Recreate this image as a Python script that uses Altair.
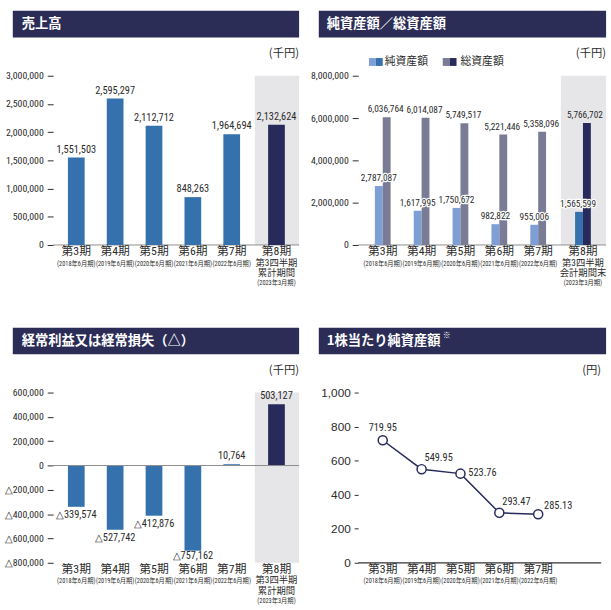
import altair as alt
import pandas as pd

# ---------------- data ----------------
periods = ["第3期", "第4期", "第5期", "第6期", "第7期", "第8期"]
fiscal_notes = ["(2018年6月期)", "(2019年6月期)", "(2020年6月期)",
                "(2021年6月期)", "(2022年6月期)", "(2023年3月期)"]
q3_sales_note = "第3四半期\n累計期間"
q3_assets_note = "第3四半期\n会計期間末"
sales = [1551503, 2595297, 2112712, 848263, 1964694, 2132624]
net_assets = [2787087, 1617995, 1750672, 982822, 955006, 1565599]
total_assets = [6036764, 6014087, 5749517, 5221446, 5358096, 5766702]
ordinary_income = [-339574, -527742, -412876, -757162, 10764, 503127]
bps_periods = ["第3期", "第4期", "第5期", "第6期", "第7期"]
bps = [719.95, 549.95, 523.76, 293.47, 285.13]
titles = ["売上高", "純資産額／総資産額", "経常利益又は経常損失（△）", "1株当たり純資産額"]
title_mark = "※"
units = ["(千円)", "(千円)", "(千円)", "(円)"]
legend_labels = ["純資産額", "総資産額"]
sales_ticks = [0, 500000, 1000000, 1500000, 2000000, 2500000, 3000000]
asset_ticks = [0, 2000000, 4000000, 6000000, 8000000]
income_ticks = [-800000, -600000, -400000, -200000, 0, 200000, 400000, 600000]
bps_ticks = [0, 200, 400, 600, 800, 1000]
baseline = [0]

# ---------------- styles ----------------
TITLE_BG = "#2b2d57"
BLUE = "#3572ad"
NAVY = "#272a5a"
LIGHT = "#7d9fd5"
SLATE = "#797c94"
BG = "#e6e6e8"
AXIS_GRAY = "#8d8d8d"
TXT = "#2b2b2b"
COND = ("Noto Sans ExtraCondensed, Noto Sans Condensed, Roboto Condensed, "
        "Open Sans Condensed, Liberation Sans Narrow, Liberation Sans")
NUM = COND + ", sans-serif"
JP = "Noto Sans CJK JP, sans-serif"
MIX = COND + ", Noto Sans CJK JP, sans-serif"
REG = "Liberation Sans, Arial, sans-serif"
LAST = periods[-1]
SHIFT = 6

W_L, W_R, H_T, H_B = 250, 252, 172, 173
SL = dict(type="band", domain=periods, paddingInner=0, paddingOuter=0.165, align=0.29)
SR = dict(type="band", domain=periods, paddingInner=0, paddingOuter=0.19, align=0.35)

df = pd.DataFrame({
    "period": periods, "note": fiscal_notes, "sales": sales,
    "net": net_assets, "total": total_assets, "ord": ordinary_income,
})
df["sales_lbl"] = [f"{v:,}" for v in sales]
df["net_lbl"] = [f"{v:,}" for v in net_assets]
df["total_lbl"] = [f"{v:,}" for v in total_assets]
df["ord_lbl"] = [f"△{-v:,}" if v < 0 else f"{v:,}" for v in ordinary_income]
bdf = pd.DataFrame({"period": bps_periods, "bps": bps, "note": fiscal_notes[:5]})
zero_df = pd.DataFrame({"zero": baseline})

is_last = f"datum.period == '{LAST}'"
not_last = f"datum.period != '{LAST}'"


def X(sc):
    return alt.X("period:N", scale=alt.Scale(**sc), axis=None)


def yaxis(values, font=NUM, size=10, expr="format(datum.value, ',')", tick=6, pad=4):
    return alt.Axis(values=values, title=None, domain=False, grid=False, ticks=True,
                    tickSize=tick, tickColor=TXT, tickWidth=1, labelFont=font,
                    labelFontSize=size, labelColor=TXT, labelPadding=pad,
                    labelOverlap=False, labelExpr=expr)


def frame(i, left, w, unit_x):
    one = pd.DataFrame({"title": [titles[i]], "unit": [units[i]]})
    base = alt.Chart(one)
    return [
        base.mark_rect(color=TITLE_BG).encode(
            x=alt.value(left), x2=alt.value(w), y=alt.value(-66), y2=alt.value(-39)),
        base.mark_text(align="left", baseline="middle", color="white", font=JP,
                       fontSize=13.5, fontWeight="bold").encode(
            x=alt.value(-32), y=alt.value(-52.5), text="title:N"),
        base.mark_text(align="right", baseline="middle", color=TXT, font=JP,
                       fontSize=11.5).encode(
            x=alt.value(unit_x), y=alt.value(-22), text="unit:N"),
    ]


def categories(sc, h, note, data, include_last=True):
    base = alt.Chart(data)
    layers = [
        base.transform_filter(not_last).mark_text(
            font=MIX, fontSize=12, color=TXT, baseline="middle").encode(
            x=X(sc), y=alt.value(h + 6), text="period:N"),
        base.transform_filter(not_last).mark_text(
            font=MIX, fontSize=6.4, color=TXT, baseline="middle").encode(
            x=X(sc), y=alt.value(h + 19), text="note:N"),
    ]
    if include_last:
        nd = pd.DataFrame({"period": [LAST], "note": [note]})
        layers += [
            base.transform_filter(is_last).mark_text(
                font=MIX, fontSize=12, color=TXT, baseline="middle", xOffset=SHIFT).encode(
                x=X(sc), y=alt.value(h + 6), text="period:N"),
            alt.Chart(nd).mark_text(
                font=MIX, fontSize=9.5, color=TXT, baseline="top", lineBreak="\n",
                lineHeight=11, xOffset=SHIFT).encode(
                x=X(sc), y=alt.value(h + 13), text="note:N"),
            base.transform_filter(is_last).mark_text(
                font=MIX, fontSize=6.4, color=TXT, baseline="middle", xOffset=SHIFT).encode(
                x=X(sc), y=alt.value(h + 39), text="note:N"),
        ]
    return layers


one_row = pd.DataFrame({"k": [0]})

# ---------------- panel 1: 売上高 ----------------
ys1 = alt.Scale(domain=[0, 3000000], nice=False)
ax1 = yaxis(sales_ticks)


def Y1(f):
    return alt.Y(f, scale=ys1, axis=ax1)


b1 = alt.Chart(df)
vl1 = dict(font=NUM, fontSize=10.5, color=TXT, baseline="bottom", dy=-3)
p1 = alt.layer(
    b1.transform_filter(is_last).mark_bar(color=BG, size=45, xOffset=6.5).encode(
        x=X(SL), y=alt.value(0), y2=alt.value(H_T)),
    alt.Chart(one_row).mark_rule(color=AXIS_GRAY, strokeWidth=1).encode(
        x=alt.value(0), x2=alt.value(W_L), y=alt.value(H_T)),
    b1.transform_filter(not_last).mark_bar(color=BLUE, size=17).encode(
        x=X(SL), y=Y1("sales:Q")),
    b1.transform_filter(is_last).mark_bar(color=NAVY, size=17, xOffset=SHIFT).encode(
        x=X(SL), y=Y1("sales:Q")),
    b1.transform_filter(not_last).mark_text(**vl1).encode(
        x=X(SL), y=Y1("sales:Q"), text="sales_lbl:N"),
    b1.transform_filter(is_last).mark_text(xOffset=SHIFT, **vl1).encode(
        x=X(SL), y=Y1("sales:Q"), text="sales_lbl:N"),
    *categories(SL, H_T, q3_sales_note, df),
    *frame(0, -41, W_L, W_L),
).properties(width=W_L, height=H_T)

# ---------------- panel 2: 純資産額／総資産額 ----------------
ys2 = alt.Scale(domain=[0, 8000000], nice=False)
ax2 = yaxis(asset_ticks)


def Y2(f):
    return alt.Y(f, scale=ys2, axis=ax2)


b2 = alt.Chart(df)
leg = alt.Chart(pd.DataFrame({"a": [legend_labels[0]], "b": [legend_labels[1]]}))
vl = dict(font=NUM, fontSize=9.5, baseline="bottom", dy=-3)
halo = dict(color="white", stroke="white", strokeWidth=2.5, strokeJoin="round", **vl)
ink = dict(color=TXT, **vl)
p2 = alt.layer(
    b2.transform_filter(is_last).mark_bar(color=BG, size=46, xOffset=6.5).encode(
        x=X(SR), y=alt.value(0), y2=alt.value(H_T)),
    alt.Chart(one_row).mark_rule(color=AXIS_GRAY, strokeWidth=1).encode(
        x=alt.value(0), x2=alt.value(W_R), y=alt.value(H_T)),
    b2.transform_filter(not_last).mark_bar(color=LIGHT, size=8, xOffset=-4).encode(
        x=X(SR), y=Y2("net:Q")),
    b2.transform_filter(not_last).mark_bar(color=SLATE, size=8, xOffset=4).encode(
        x=X(SR), y=Y2("total:Q")),
    b2.transform_filter(is_last).mark_bar(color=BLUE, size=8, xOffset=SHIFT - 4).encode(
        x=X(SR), y=Y2("net:Q")),
    b2.transform_filter(is_last).mark_bar(color=NAVY, size=8, xOffset=SHIFT + 4).encode(
        x=X(SR), y=Y2("total:Q")),
    b2.transform_filter(not_last).mark_text(xOffset=-4, **halo).encode(
        x=X(SR), y=Y2("net:Q"), text="net_lbl:N"),
    b2.transform_filter(not_last).mark_text(xOffset=-4, **ink).encode(
        x=X(SR), y=Y2("net:Q"), text="net_lbl:N"),
    b2.transform_filter(not_last).mark_text(xOffset=3, **ink).encode(
        x=X(SR), y=Y2("total:Q"), text="total_lbl:N"),
    b2.transform_filter(is_last).mark_text(xOffset=SHIFT - 5, **halo).encode(
        x=X(SR), y=Y2("net:Q"), text="net_lbl:N"),
    b2.transform_filter(is_last).mark_text(xOffset=SHIFT - 5, **ink).encode(
        x=X(SR), y=Y2("net:Q"), text="net_lbl:N"),
    b2.transform_filter(is_last).mark_text(xOffset=SHIFT + 2, **ink).encode(
        x=X(SR), y=Y2("total:Q"), text="total_lbl:N"),
    leg.mark_rect(color=LIGHT).encode(x=alt.value(11), x2=alt.value(18), y=alt.value(-18), y2=alt.value(-10)),
    leg.mark_rect(color=BLUE).encode(x=alt.value(18), x2=alt.value(25), y=alt.value(-18), y2=alt.value(-10)),
    leg.mark_text(font=JP, fontSize=11, color=TXT, align="left", baseline="middle").encode(
        x=alt.value(27), y=alt.value(-14), text="a:N"),
    leg.mark_rect(color=SLATE).encode(x=alt.value(86), x2=alt.value(93), y=alt.value(-18), y2=alt.value(-10)),
    leg.mark_rect(color=NAVY).encode(x=alt.value(93), x2=alt.value(100), y=alt.value(-18), y2=alt.value(-10)),
    leg.mark_text(font=JP, fontSize=11, color=TXT, align="left", baseline="middle").encode(
        x=alt.value(104), y=alt.value(-14), text="b:N"),
    *categories(SR, H_T, q3_assets_note, df),
    *frame(1, -40, W_R, W_R),
).properties(width=W_R, height=H_T)

# ---------------- panel 3: 経常利益又は経常損失 ----------------
ys3 = alt.Scale(domain=[-800000, 600000], nice=False)
ax3 = yaxis(income_ticks,
            expr="datum.value < 0 ? '△' + format(-datum.value, ',') : format(datum.value, ',')")


def Y3(f):
    return alt.Y(f, scale=ys3, axis=ax3)


b3 = alt.Chart(df)
il = dict(font=NUM, fontSize=10.5, color=TXT)
p3 = alt.layer(
    b3.transform_filter(is_last).mark_bar(color=BG, size=45, xOffset=6.5).encode(
        x=X(SL), y=alt.value(0), y2=alt.value(H_B)),
    b3.transform_filter(not_last).mark_bar(color=BLUE, size=17).encode(
        x=X(SL), y=Y3("ord:Q")),
    b3.transform_filter(is_last).mark_bar(color=NAVY, size=17, xOffset=SHIFT).encode(
        x=X(SL), y=Y3("ord:Q")),
    alt.Chart(zero_df).mark_rule(color=AXIS_GRAY, strokeWidth=1).encode(
        x=alt.value(-2), x2=alt.value(W_L), y=Y3("zero:Q")),
    # white knock-out behind the deepest label (as in the original artwork)
    b3.transform_filter("datum.ord < -700000").mark_rect(
        color="white", yOffset=-7, y2Offset=1, xOffset=-10, x2Offset=10).encode(
        x=X(SL), x2=alt.X2("period"), y=Y3("ord:Q"), y2=alt.Y2("ord")),
    b3.transform_filter("datum.ord < 0 && datum.ord > -700000").mark_text(
        baseline="top", dy=3, **il).encode(
        x=X(SL), y=Y3("ord:Q"), text="ord_lbl:N"),
    b3.transform_filter("datum.ord < -700000").mark_text(
        baseline="middle", dy=-2, **il).encode(
        x=X(SL), y=Y3("ord:Q"), text="ord_lbl:N"),
    b3.transform_filter(f"datum.ord >= 0 && {not_last}").mark_text(
        baseline="bottom", dy=-3, **il).encode(
        x=X(SL), y=Y3("ord:Q"), text="ord_lbl:N"),
    b3.transform_filter(is_last).mark_text(
        baseline="bottom", dy=-3, xOffset=SHIFT, **il).encode(
        x=X(SL), y=Y3("ord:Q"), text="ord_lbl:N"),
    *categories(SL, H_B, q3_sales_note, df),
    *frame(2, -41, W_L, W_L),
).properties(width=W_L, height=H_B)

# ---------------- panel 4: 1株当たり純資産額 ----------------
ys4 = alt.Scale(domain=[0, 1000], nice=False)
ax4 = yaxis(bps_ticks, font=REG, size=12, tick=4, pad=4)


def Y4(f):
    return alt.Y(f, scale=ys4, axis=ax4)


b4 = alt.Chart(bdf)
lbl = dict(font=NUM, fontSize=10.5, color=TXT, baseline="middle")
txt4 = alt.Text("bps:Q", format=".2f")
p4 = alt.layer(
    alt.Chart(one_row).mark_rule(color="#333333", strokeWidth=1.3).encode(
        x=alt.value(0), x2=alt.value(W_R - 5), y=alt.value(H_B)),
    b4.mark_line(color=NAVY, strokeWidth=1.5).encode(x=X(SR), y=Y4("bps:Q")),
    b4.mark_circle(size=85, fill="white", stroke=NAVY, strokeWidth=1.5, opacity=1).encode(
        x=X(SR), y=Y4("bps:Q")),
    b4.transform_filter("datum.period == '第3期'").mark_text(align="center", dy=-12, **lbl).encode(
        x=X(SR), y=Y4("bps:Q"), text=txt4),
    b4.transform_filter("datum.period == '第4期' || datum.period == '第6期'").mark_text(
        align="left", dx=3, dy=-11, **lbl).encode(
        x=X(SR), y=Y4("bps:Q"), text=txt4),
    b4.transform_filter("datum.period == '第5期'").mark_text(align="left", dx=8, dy=-1, **lbl).encode(
        x=X(SR), y=Y4("bps:Q"), text=txt4),
    b4.transform_filter("datum.period == '第7期'").mark_text(align="left", dx=6, dy=-8, **lbl).encode(
        x=X(SR), y=Y4("bps:Q"), text=txt4),
    *categories(SR, H_B, "", bdf, include_last=False),
    *frame(3, -40, W_R, W_R - 5),
    alt.Chart(pd.DataFrame({"m": [title_mark]})).mark_text(
        font=JP, fontSize=8, color="white", align="left", baseline="middle").encode(
        x=alt.value(86), y=alt.value(-57), text="m:N"),
).properties(width=W_R, height=H_B)

chart = alt.concat(
    p1, p2, p3, p4, columns=2,
    spacing={"row": 150, "column": 60}, bounds="flush", align="each",
).properties(
    padding={"left": 4, "top": 6, "right": 4, "bottom": 0},
    background="white",
).configure_view(stroke=None)

chart.save("out.html", embed_options={"renderer": "svg", "actions": False})
